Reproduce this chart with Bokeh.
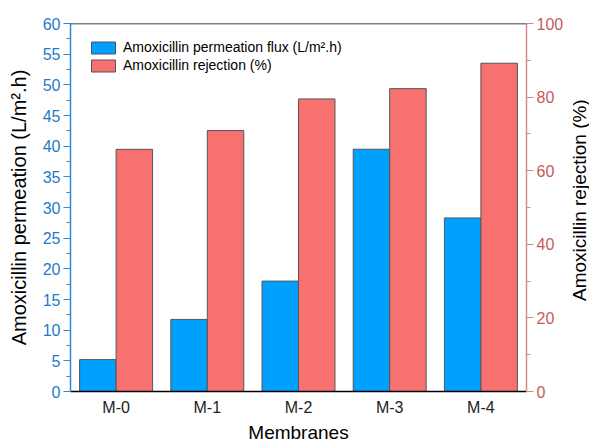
import math
from bokeh.plotting import figure
from bokeh.layouts import row
from bokeh.core.properties import value
from bokeh.models import (FactorRange, Range1d, LinearAxis, SingleIntervalTicker,
                          Span, Legend, LegendItem, ColumnDataSource)
from bokeh.transform import dodge
from bokeh.embed import file_html
from bokeh.resources import INLINE

membranes = ["M-0", "M-1", "M-2", "M-3", "M-4"]
flux = [5.2, 11.75, 18.0, 39.5, 28.3]
rejection = [65.8, 70.9, 79.5, 82.3, 89.2]

FONT = "Liberation Sans"
BLUE_TXT = "#1f7bc6"
BLUE_LINE = "#3587cc"
RED_TXT = "#c65a5a"
RED_LINE = "#d48a8a"
FW, FH = 456, 368
TOP = 23

src = ColumnDataSource(dict(m=membranes, flux=flux, rej=rejection))

p = figure(x_range=FactorRange(*membranes), y_range=Range1d(0, 60),
           frame_width=FW, frame_height=FH, output_backend="svg", toolbar_location=None,
           min_border_left=70, min_border_right=0, min_border_top=TOP, min_border_bottom=5)
p.extra_y_ranges = {"rej": Range1d(0, 100)}
p.outline_line_color = None
p.xgrid.grid_line_color = None
p.ygrid.grid_line_color = None

b1 = p.vbar(x=dodge("m", -0.2, range=p.x_range), top="flux", width=0.4, source=src,
            fill_color="#00a0ff", line_color="#555555", line_width=1)
b2 = p.vbar(x=dodge("m", 0.2, range=p.x_range), top="rej", width=0.4, source=src,
            y_range_name="rej", fill_color="#f87171", line_color="#555555", line_width=1)

# top frame line
p.add_layout(Span(location=60, dimension="width", line_color="black", line_width=1.5))

# left axis
ya = p.yaxis[0]
ya.ticker = SingleIntervalTicker(interval=5, num_minor_ticks=2)
ya.axis_label = "Amoxicillin permeation (L/m\u00b2.h)"
ya.axis_label_text_font = FONT
ya.axis_label_text_font_style = "normal"
ya.axis_label_text_font_size = "20px"
ya.axis_label_text_color = "black"
ya.axis_label_standoff = 10
ya.major_label_text_font = FONT
ya.major_label_text_font_size = "16px"
ya.major_label_text_color = BLUE_TXT
ya.axis_line_color = BLUE_LINE
ya.axis_line_width = 1.5
ya.major_tick_line_color = BLUE_LINE
ya.minor_tick_line_color = BLUE_LINE
ya.major_tick_out = 7
ya.major_tick_in = 0
ya.minor_tick_out = 4
ya.minor_tick_in = 0
ya.major_label_standoff = 3

# right axis: ticks and numbers
ra = LinearAxis(y_range_name="rej", ticker=SingleIntervalTicker(interval=20, num_minor_ticks=2))
ra.major_label_text_font = FONT
ra.major_label_text_font_size = "16px"
ra.major_label_text_color = RED_TXT
ra.axis_line_color = RED_LINE
ra.axis_line_width = 1.5
ra.major_tick_line_color = RED_LINE
ra.minor_tick_line_color = RED_LINE
ra.major_tick_out = 7
ra.major_tick_in = 0
ra.minor_tick_out = 4
ra.minor_tick_in = 0
ra.major_label_standoff = 3
p.add_layout(ra, "right")

# bottom axis
xa = p.xaxis[0]
xa.axis_label = "Membranes"
xa.axis_label_text_font = FONT
xa.axis_label_text_font_style = "normal"
xa.axis_label_text_font_size = "19px"
xa.axis_label_text_color = "black"
xa.axis_label_standoff = 3
xa.major_label_text_font = FONT
xa.major_label_text_font_size = "16px"
xa.major_label_text_color = "#222222"
xa.axis_line_color = "black"
xa.axis_line_width = 1.5
xa.major_tick_line_color = None
xa.minor_tick_line_color = None
xa.major_tick_out = 0
xa.major_label_standoff = 7

legend = Legend(items=[
    LegendItem(label="Amoxicillin permeation flux (L/m\u00b2.h)", renderers=[b1]),
    LegendItem(label="Amoxicillin rejection (%)", renderers=[b2]),
], location=(18, 318))
legend.glyph_width = 30
legend.glyph_height = 15
legend.label_height = 15
legend.label_text_font = FONT
legend.label_text_font_size = "14px"
legend.label_text_color = "black"
legend.label_standoff = 5
legend.spacing = 2
legend.padding = 10
legend.margin = 0
legend.border_line_color = None
legend.background_fill_alpha = 0
p.add_layout(legend, "center")

# right-hand axis title (reads bottom-to-top), in a narrow side panel
p2 = figure(frame_width=26, frame_height=FH, x_range=Range1d(0, 1), y_range=Range1d(0, 100),
            output_backend="svg", toolbar_location=None,
            min_border_left=0, min_border_right=0, min_border_top=TOP, min_border_bottom=0)
p2.axis.visible = False
p2.grid.visible = False
p2.outline_line_color = None
p2.text(x=[0.5], y=[52], text=["Amoxicillin rejection (%)"], angle=math.pi / 2,
        text_align="center", text_baseline="middle", text_font=value(FONT),
        text_font_size="19px", text_color="black")

layout = row(p, p2, spacing=0)
open("out.html", "w").write(file_html(layout, INLINE))
